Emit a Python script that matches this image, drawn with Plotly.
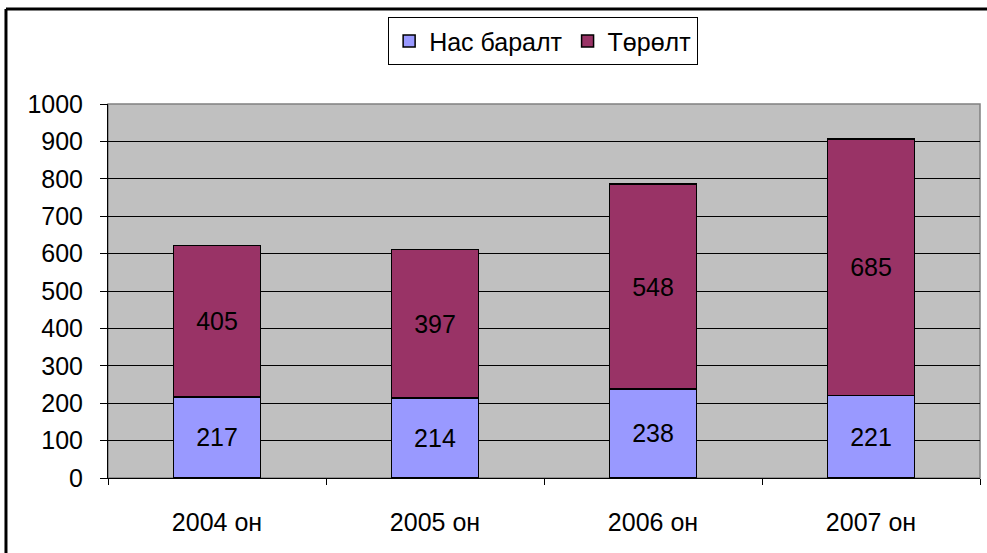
import plotly.graph_objects as go

categories = ["2004 он", "2005 он", "2006 он", "2007 он"]
deaths = [217, 214, 238, 221]
births = [405, 397, 548, 685]
series_names = ["Нас баралт", "Төрөлт"]
y_ticks = [0, 100, 200, 300, 400, 500, 600, 700, 800, 900, 1000]

FONT = "Liberation Sans, Arial, sans-serif"

fig = go.Figure()
fig.add_trace(go.Bar(
    x=categories, y=deaths, name=series_names[0],
    marker=dict(color="#9999ff", line=dict(color="black", width=1.5)),
    text=deaths, textposition="inside", insidetextanchor="middle",
    textfont=dict(size=25, color="black", family=FONT),
    textangle=0,
))
fig.add_trace(go.Bar(
    x=categories, y=births, name=series_names[1],
    marker=dict(color="#993366", line=dict(color="black", width=1.5)),
    text=births, textposition="inside", insidetextanchor="middle",
    textfont=dict(size=25, color="black", family=FONT),
    textangle=0,
))

fig.update_layout(
    barmode="stack",
    bargap=0.6,
    width=987, height=553,
    margin=dict(l=108, r=7, t=104, b=75),
    paper_bgcolor="white",
    plot_bgcolor="#c0c0c0",
    font=dict(family=FONT, size=25, color="black"),
    showlegend=True,
    legend=dict(
        orientation="h", x=0.499, xanchor="center", y=1.232, yanchor="top",
        bordercolor="black", borderwidth=1, bgcolor="white",
        font=dict(size=25, family=FONT, color="black"),
        traceorder="normal", itemwidth=30,
    ),
    uniformtext=dict(minsize=25, mode="show"),
    xaxis=dict(
        showgrid=False, showline=True, linecolor="black", linewidth=1,
        ticks="outside", ticklen=6, tickcolor="black", tickson="boundaries",
        ticklabelstandoff=22,
        tickfont=dict(size=25, family=FONT, color="black"),
    ),
    yaxis=dict(
        range=[0, 1000], tickvals=y_ticks, showgrid=True, gridcolor="black",
        gridwidth=1, showline=True, linecolor="black", linewidth=1,
        ticks="outside", ticklen=7, tickcolor="black", ticklabelstandoff=12,
        tickfont=dict(size=25, family=FONT, color="black"), zeroline=False,
    ),
    shapes=[
        dict(type="rect", xref="paper", yref="paper", x0=0, x1=1, y0=0, y1=1,
             line=dict(color="#808080", width=1.5), layer="below"),
        dict(type="line", xref="paper", yref="paper", x0=-0.117, x1=1.02,
             y0=1.254, y1=1.254, line=dict(color="black", width=3)),
        dict(type="line", xref="paper", yref="paper", x0=-0.117, x1=-0.117,
             y0=1.254, y1=-0.25, line=dict(color="black", width=3)),
    ],
)

fig.write_html("out.html", config={"displayModeBar": False},
               post_script="document.body.style.margin='0px';")
